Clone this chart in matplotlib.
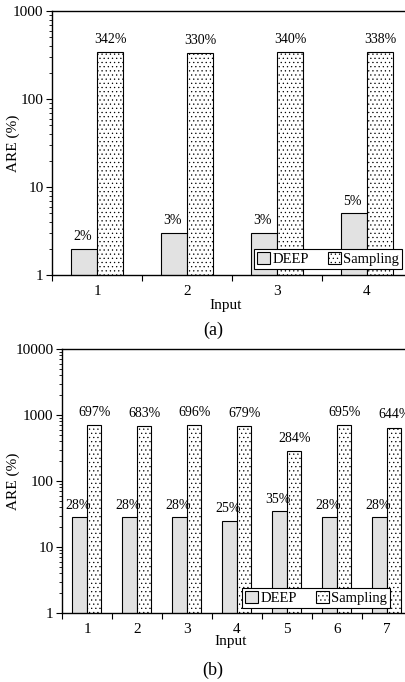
#!/usr/bin/env python3
import numpy as np
import matplotlib
matplotlib.use('Agg')
import matplotlib.pyplot as plt

plt.rcParams['font.family'] = ['Liberation Serif', 'DejaVu Serif']
plt.rcParams['hatch.linewidth'] = 0.4
plt.rcParams['hatch.color'] = '#999999'

# panel (a)
inputs_a = [1, 2, 3, 4]
deep_a = [2, 3, 3, 5]
samp_a = [342, 330, 340, 338]

# panel (b)
inputs_b = [1, 2, 3, 4, 5, 6, 7]
deep_b = [28, 28, 28, 25, 35, 28, 28]
samp_b = [697, 683, 696, 679, 284, 695, 644]

W, H = 406, 682


def panel(fig, box, inputs, deep, samp, ymax, leg_box, xlab_y, tag, tag_y):
    l, t, r, b = box
    ax = fig.add_axes([l / W, 1 - b / H, (r - l) / W, (b - t) / H])
    x = np.array(inputs, dtype=float)
    w = 0.29
    ax.bar(x - w / 2, deep, w, color='#e2e2e2', edgecolor='black', linewidth=0.8, label='DEEP')
    ax.bar(x + w / 2, samp, w, color='white', edgecolor='black', linewidth=0.8,
           hatch='....', label='Sampling')
    for xi, v in zip(x - w / 2, deep):
        ax.annotate(f'{v}%', (xi, v), xytext=(-1, 4), textcoords='offset points',
                    ha='center', va='bottom', fontsize=10)
    for xi, v in zip(x + w / 2, samp):
        ax.annotate(f'{v}%', (xi, v), xytext=(0, 4.5), textcoords='offset points',
                    ha='center', va='bottom', fontsize=10)
    ax.set_yscale('log')
    ax.set_ylim(1, ymax)
    ax.set_xlim(0.5, len(inputs) + 0.5)
    ticks = [10 ** k for k in range(int(np.log10(ymax)) + 1)]
    ax.set_yticks(ticks)
    ax.set_yticklabels([str(t) for t in ticks], fontsize=11)
    ax.tick_params(axis='y', which='major', direction='out', length=4, width=0.8, pad=2)
    ax.tick_params(axis='y', which='minor', direction='out', length=2.5, width=0.6)
    # x ticks at category boundaries, labels at centres
    ax.set_xticks(np.arange(0.5, len(inputs) + 1, 1.0))
    ax.set_xticklabels([])
    ax.set_xticks(x, minor=True)
    ax.set_xticklabels([str(i) for i in inputs], minor=True, fontsize=11)
    ax.tick_params(axis='x', which='major', direction='out', length=4, width=0.8)
    ax.tick_params(axis='x', which='minor', length=0, pad=7)
    ax.spines['right'].set_visible(False)
    for s in ['left', 'bottom', 'top']:
        ax.spines[s].set_linewidth(1.0)
    ax.set_ylabel('ARE (%)', fontsize=11)
    ax.yaxis.set_label_coords((20 - l) / (r - l), 0.5)
    fig.text(((l + r) / 2 - 6) / W, 1 - xlab_y / H, 'Input', ha='center', va='center', fontsize=11)
    fig.text(213 / W, 1 - tag_y / H, tag, ha='center', va='center', fontsize=13)
    leg = fig.legend(*ax.get_legend_handles_labels(), loc='lower left',
                     bbox_to_anchor=(leg_box[0] / W, 1 - leg_box[1] / H),
                     ncol=2, fontsize=10.5, frameon=True, fancybox=False,
                     framealpha=1, edgecolor='black', borderpad=0.2,
                     handlelength=0.9, handleheight=0.9, handletextpad=0.15,
                     columnspacing=1.3, borderaxespad=0)
    leg.get_frame().set_linewidth(0.8)
    return ax


fig = plt.figure(figsize=(W / 100, H / 100), dpi=100)
panel(fig, (52, 11, 412, 275), inputs_a, deep_a, samp_a, 1000,
      (254, 269), 305, '(a)', 330)
panel(fig, (62, 349, 412, 613), inputs_b, deep_b, samp_b, 10000,
      (242, 608), 642, '(b)', 670)
fig.savefig('out.png', dpi=100)
